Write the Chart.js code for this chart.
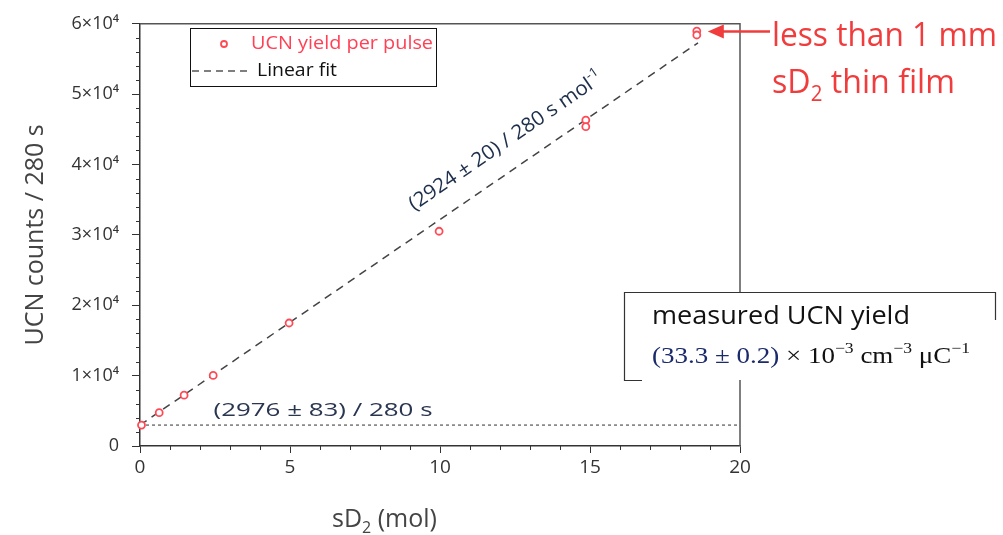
<!DOCTYPE html>
<html>
<head>
<meta charset="utf-8">
<script src="https://cdn.jsdelivr.net/npm/chart.js@4.4.1/dist/chart.umd.min.js"></script>
<style>
  html, body { margin: 0; padding: 0; background: #fff; }
  canvas { display: block; }
</style>
</head>
<body>
<canvas id="ucnchart" width="1003" height="535"></canvas>
<script>
// UCN yield per pulse (sD2 amount in mol, counts per 280 s)
const sd2Mol = [0.05, 0.64, 1.47, 2.44, 4.97, 9.97, 14.86, 14.86, 18.56, 18.56];
const ucnCounts = [2980, 4740, 7220, 10030, 17480, 30520, 46320, 45380, 58970, 58410];

// Linear fit, end points
const fitMol = [0, 18.6];
const fitCounts = [2976, 57300];

// constant offset level (dotted line)
const offsetMol = [0, 20];
const offsetCounts = [2976, 2976];

// axis ticks
const xMajorTicks = [0, 5, 10, 15, 20];
const yMajorTicks = [0, 10000, 20000, 30000, 40000, 50000, 60000];
const yTickLabels = ['0', '1×10⁴', '2×10⁴', '3×10⁴', '4×10⁴', '5×10⁴', '6×10⁴'];
const xMinorStep = 1;
const yMinorStep = 2000;

const FONT = '"Open Sans", "Noto Sans", sans-serif';
const SERIF = '"Liberation Serif", "DejaVu Serif", serif';
const RED = '#f03c3c';

function toXY(xs, ys) {
  return xs.map((v, i) => ({ x: v, y: ys[i] }));
}

// draws text parts (sub/superscripts) one after another, stretched to a width if given
function drawRich(ctx, parts, x, y, width) {
  let total = 0;
  parts.forEach(p => { ctx.font = p.font; total += ctx.measureText(p.text).width; });
  const k = width ? width / total : 1;
  ctx.save();
  ctx.translate(x, y);
  ctx.scale(k, 1);
  let cx = 0;
  parts.forEach(p => {
    ctx.font = p.font;
    ctx.fillStyle = p.color;
    ctx.fillText(p.text, cx, p.dy || 0);
    cx += ctx.measureText(p.text).width;
  });
  ctx.restore();
}

const extras = {
  id: 'extras',
  afterDraw(chart) {
    const { ctx, chartArea: a, scales: { x, y } } = chart;
    ctx.save();

    // top and right frame
    ctx.strokeStyle = '#555';
    ctx.lineWidth = 1.5;
    ctx.beginPath();
    ctx.moveTo(a.left, a.top);
    ctx.lineTo(a.right, a.top);
    ctx.lineTo(a.right, a.bottom);
    ctx.stroke();

    // minor ticks
    ctx.strokeStyle = '#333';
    ctx.lineWidth = 1;
    ctx.beginPath();
    for (let v = x.min; v <= x.max; v += xMinorStep) {
      if (xMajorTicks.includes(v)) continue;
      const px = Math.round(x.getPixelForValue(v)) + 0.5;
      ctx.moveTo(px, a.bottom);
      ctx.lineTo(px, a.bottom + 4);
    }
    for (let v = y.min; v <= y.max; v += yMinorStep) {
      if (yMajorTicks.includes(v)) continue;
      const py = Math.round(y.getPixelForValue(v)) + 0.5;
      ctx.moveTo(a.left - 4, py);
      ctx.lineTo(a.left, py);
    }
    ctx.stroke();

    // legend box
    ctx.strokeStyle = '#111';
    ctx.lineWidth = 1;
    ctx.strokeRect(190.5, 28.5, 246, 58);
    ctx.strokeStyle = '#ff4a55';
    ctx.lineWidth = 1.8;
    ctx.beginPath();
    ctx.arc(224, 44, 3, 0, Math.PI * 2);
    ctx.stroke();
    ctx.textBaseline = 'middle';
    ctx.textAlign = 'left';
    drawRich(ctx, [{ text: 'UCN yield per pulse', font: '19px ' + FONT, color: '#ff4055' }], 251, 44, 182);
    ctx.strokeStyle = '#555';
    ctx.lineWidth = 1.5;
    ctx.setLineDash([7, 5]);
    ctx.beginPath();
    ctx.moveTo(192, 71);
    ctx.lineTo(252, 71);
    ctx.stroke();
    ctx.setLineDash([]);
    drawRich(ctx, [{ text: 'Linear fit', font: '19px ' + FONT, color: '#111' }], 257, 71, 80);

    // slope label along the fit line
    const x0 = x.getPixelForValue(fitMol[0]), y0 = y.getPixelForValue(fitCounts[0]);
    const x1 = x.getPixelForValue(fitMol[1]), y1 = y.getPixelForValue(fitCounts[1]);
    const ang = Math.atan2(y1 - y0, x1 - x0);
    ctx.save();
    ctx.translate(x.getPixelForValue(12.2), y.getPixelForValue(43300));
    ctx.rotate(ang);
    drawRich(ctx, [
      { text: '(2924 ± 20) / 280 s mol', font: '20px ' + FONT, color: '#1c2e4a' },
      { text: '-1', font: '13px ' + FONT, color: '#1c2e4a', dy: -7 }
    ], -115, 0, 230);
    ctx.restore();

    // offset label
    drawRich(ctx, [{ text: '(2976 ± 83) / 280 s', font: '19px ' + FONT, color: '#2a3550' }],
      x.getPixelForValue(2.45), y.getPixelForValue(5060), 219);

    // x axis title
    ctx.textBaseline = 'alphabetic';
    drawRich(ctx, [
      { text: 'sD', font: '25px ' + FONT, color: '#444' },
      { text: '2', font: '16px ' + FONT, color: '#444', dy: 6 },
      { text: ' (mol)', font: '25px ' + FONT, color: '#444' }
    ], 332, 527);

    // arrow and note on the right
    const tipX = x.getPixelForValue(18.56) + 11, tipY = y.getPixelForValue(58900);
    ctx.strokeStyle = RED;
    ctx.fillStyle = RED;
    ctx.lineWidth = 2.5;
    ctx.beginPath();
    ctx.moveTo(770, tipY);
    ctx.lineTo(tipX + 12, tipY);
    ctx.stroke();
    ctx.beginPath();
    ctx.moveTo(tipX, tipY);
    ctx.lineTo(tipX + 16, tipY - 7);
    ctx.lineTo(tipX + 16, tipY + 7);
    ctx.closePath();
    ctx.fill();
    drawRich(ctx, [{ text: 'less than 1 mm', font: '33px ' + FONT, color: RED }], 772, 46, 225);
    drawRich(ctx, [
      { text: 'sD', font: '33px ' + FONT, color: RED },
      { text: '2', font: '21px ' + FONT, color: RED, dy: 8 },
      { text: ' thin film', font: '33px ' + FONT, color: RED }
    ], 772, 93, 183);

    // measured yield box
    ctx.fillStyle = '#fff';
    ctx.fillRect(624, 292, 372, 88);
    ctx.strokeStyle = '#333';
    ctx.lineWidth = 1.2;
    ctx.beginPath();
    ctx.moveTo(642, 380.5);
    ctx.lineTo(624.5, 380.5);
    ctx.lineTo(624.5, 292.5);
    ctx.lineTo(995.5, 292.5);
    ctx.lineTo(995.5, 320);
    ctx.stroke();
    drawRich(ctx, [{ text: 'measured UCN yield', font: '25px ' + FONT, color: '#111' }], 652, 324, 258);
    drawRich(ctx, [
      { text: '(33.3 ± 0.2)', font: '23px ' + SERIF, color: '#1a2a6a' },
      { text: ' × 10', font: '23px ' + SERIF, color: '#111' },
      { text: '−3', font: '15px ' + SERIF, color: '#111', dy: -10 },
      { text: ' cm', font: '23px ' + SERIF, color: '#111' },
      { text: '−3', font: '15px ' + SERIF, color: '#111', dy: -10 },
      { text: ' μC', font: '23px ' + SERIF, color: '#111' },
      { text: '−1', font: '15px ' + SERIF, color: '#111', dy: -10 }
    ], 652, 363, 318);

    ctx.restore();
  }
};

new Chart(document.getElementById('ucnchart'), {
  type: 'scatter',
  data: {
    datasets: [
      {
        label: 'UCN yield per pulse',
        data: toXY(sd2Mol, ucnCounts),
        pointStyle: 'circle',
        pointRadius: 3.5,
        borderColor: '#ff4a55',
        backgroundColor: '#fff',
        borderWidth: 1.8,
        clip: false
      },
      {
        label: 'Linear fit',
        data: toXY(fitMol, fitCounts),
        showLine: true,
        pointRadius: 0,
        borderColor: '#444',
        borderWidth: 1.5,
        borderDash: [8, 6]
      },
      {
        label: 'offset',
        data: toXY(offsetMol, offsetCounts),
        showLine: true,
        pointRadius: 0,
        borderColor: '#333',
        borderWidth: 1,
        borderDash: [3, 3]
      }
    ]
  },
  options: {
    responsive: false,
    animation: false,
    devicePixelRatio: 1,
    layout: { padding: { top: 19, right: 263, left: 0, bottom: 0 } },
    plugins: {
      legend: { display: false },
      tooltip: { enabled: false }
    },
    scales: {
      x: {
        type: 'linear',
        min: 0,
        max: 20,
        afterFit: s => { s.height = 89; },
        afterBuildTicks: s => { s.ticks = xMajorTicks.map(v => ({ value: v })); },
        ticks: {
          padding: 3,
          color: '#333',
          font: { family: FONT, size: 19 }
        },
        grid: { drawOnChartArea: false, drawTicks: true, tickLength: 7, color: '#333' },
        border: { color: '#333', width: 1.5 }
      },
      y: {
        type: 'linear',
        min: 0,
        max: 60000,
        afterFit: s => { s.width = 140; },
        afterBuildTicks: s => { s.ticks = yMajorTicks.map(v => ({ value: v })); },
        ticks: {
          padding: 13,
          color: '#333',
          font: { family: FONT, size: 18 },
          callback: v => yTickLabels[yMajorTicks.indexOf(v)]
        },
        grid: { drawOnChartArea: false, drawTicks: true, tickLength: 8, color: '#333' },
        border: { color: '#333', width: 1.5 },
        title: {
          display: true,
          text: 'UCN counts / 280 s',
          color: '#444',
          font: { family: FONT, size: 25 },
          padding: { top: 21, bottom: 0 }
        }
      }
    }
  },
  plugins: [extras]
});
</script>
</body>
</html>
